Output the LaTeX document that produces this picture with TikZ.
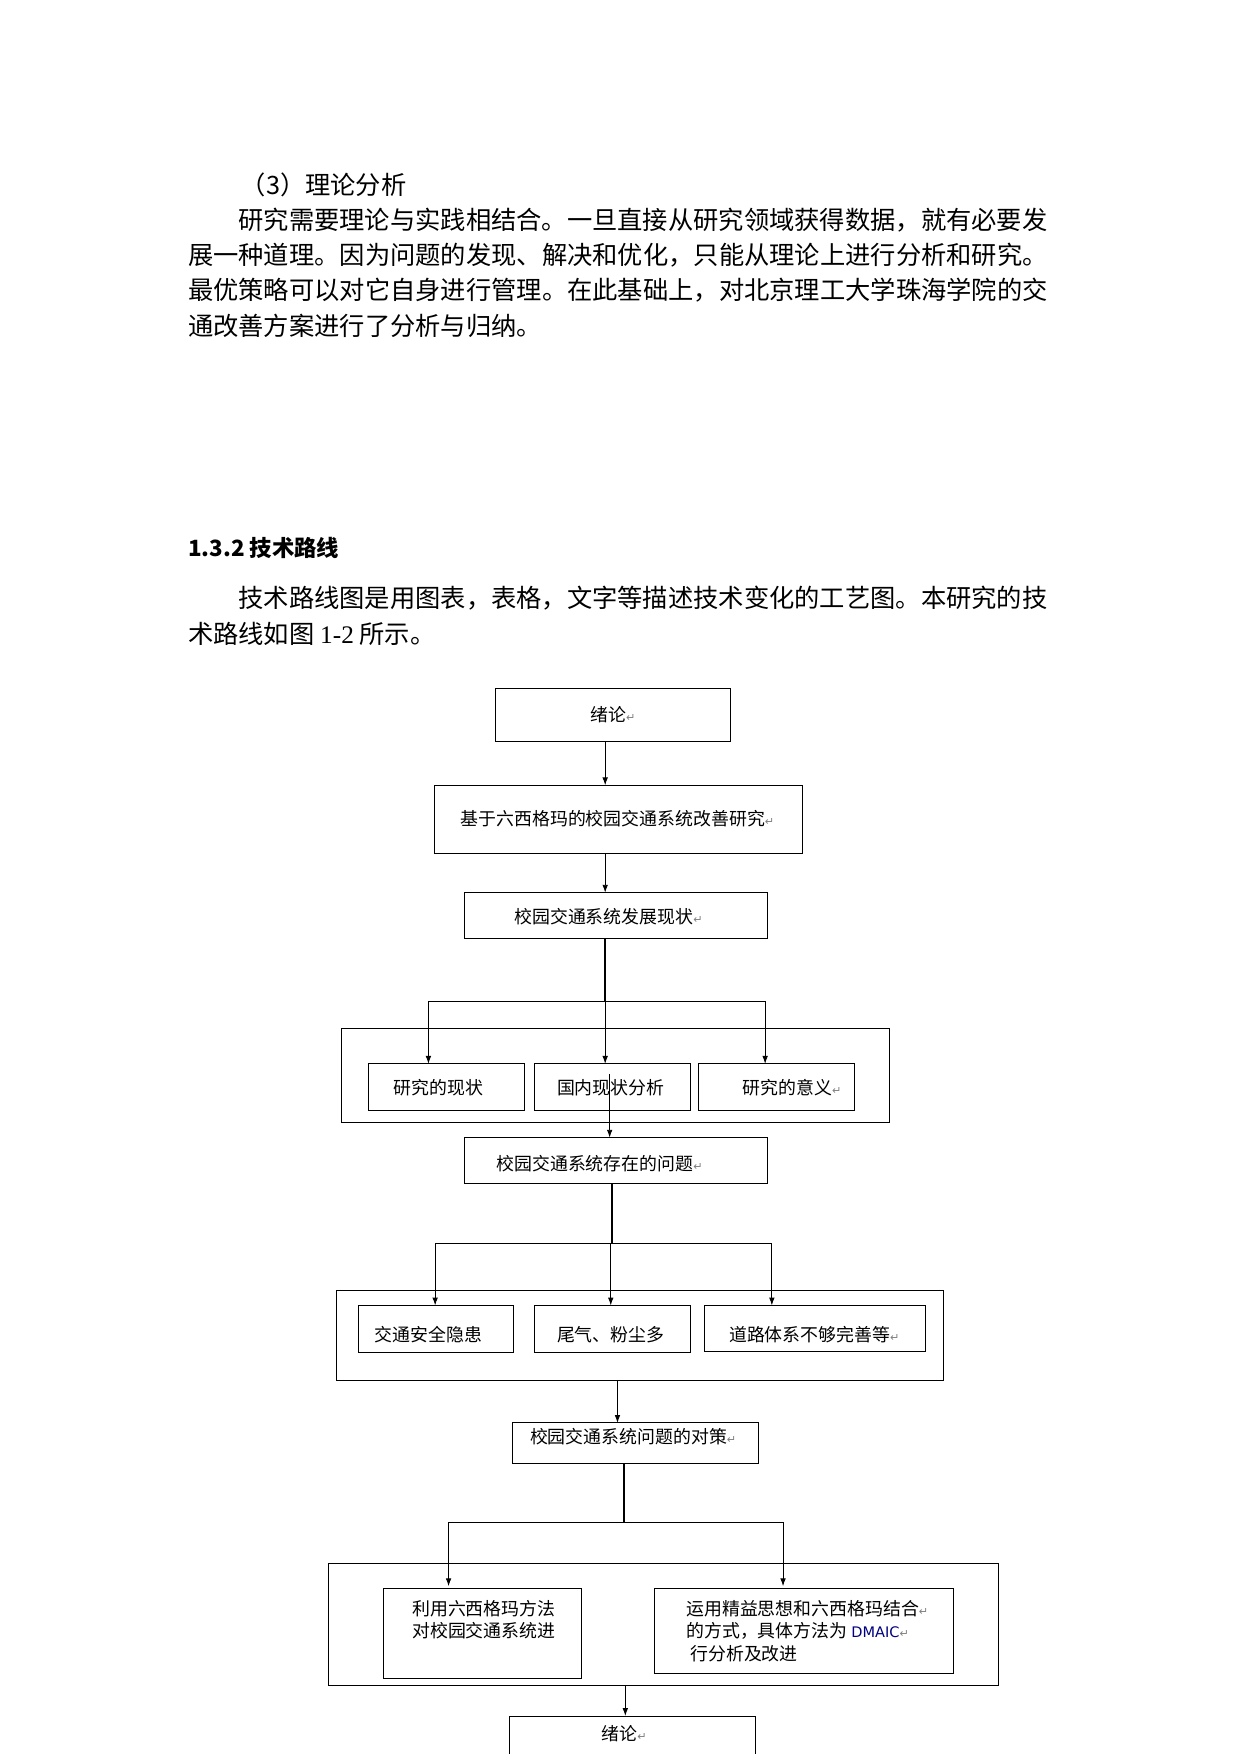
\documentclass[tikz,border=0pt]{standalone}
\usepackage{fontspec}
\setmainfont{Liberation Serif}
\newfontfamily\cjk{Noto Sans CJK SC}
\newfontfamily\dv{DejaVu Sans}
\newcommand{\rt}{{\dv\color{gray}\fontsize{10}{10}\selectfont ↵}}
\begin{document}
\begin{tikzpicture}[x=1pt,y=-1pt,
  box/.style={draw,thick,inner sep=0},
  lbl/.style={font=\cjk\fontsize{16}{20}\selectfont,anchor=center},
  body/.style={font=\cjk\fontsize{22.6}{31}\selectfont,anchor=west,inner sep=0},
  arr/.style={-{Latex[length=7pt,width=5pt]},thick},
  trunk/.style={line width=2pt}]
\usetikzlibrary{arrows.meta}
\useasboundingbox (0,0) rectangle (1109,1568);
\node[body] (t0) at (215,165) {（3）理论分析};
\node[body] (t1) at (213,197) {研究需要理论与实践相结合。一旦直接从研究领域获得数据，就有必要发};
\node[body] (t2) at (168,228) {展一种道理。因为问题的发现、解决和优化，只能从理论上进行分析和研究。};
\node[body] (t3) at (168,259) {最优策略可以对它自身进行管理。在此基础上，对北京理工大学珠海学院的交};
\node[body] (t4) at (168,291) {通改善方案进行了分析与归纳。};
\node[body,font=\cjk\fontsize{20}{31}\selectfont] (h) at (168,490) {\bfseries 1.3.2 {\cjk 技术路线}};
\node[body] (t5) at (213,535) {技术路线图是用图表，表格，文字等描述技术变化的工艺图。本研究的技};
\node[body] (t6) at (168,567) {术路线如图 {\rmfamily 1-2} 所示。};
% boxes
\draw[box] (443,615) rectangle (653,663); \node[lbl] (b1) at (548,639) {绪论\rt};
\draw[box] (388,702) rectangle (717,763); \node[lbl] (b2) at (552,732) {基于六西格玛的校园交通系统改善研究\rt};
\draw[box] (415,798) rectangle (686,839); \node[lbl] (b3) at (544,819) {校园交通系统发展现状\rt};
\draw[box] (305,919) rectangle (795,1003);
\draw[box] (329,951) rectangle (469,993); \node[lbl] (c1) at (392,972) {研究的现状};
\draw[box] (478,951) rectangle (617,993); \node[lbl] (c2) at (546,972) {国内现状分析};
\draw[box] (624,951) rectangle (764,993); \node[lbl] (c3) at (708,972) {研究的意义\rt};
\draw[box] (415,1017) rectangle (686,1058); \node[lbl] (b4) at (536,1040) {校园交通系统存在的问题\rt};
\draw[box] (301,1154) rectangle (843,1234);
\draw[box] (320,1167) rectangle (459,1209); \node[lbl] (d1) at (383,1193) {交通安全隐患};
\draw[box] (478,1167) rectangle (617,1209); \node[lbl] (d2) at (546,1193) {尾气、粉尘多};
\draw[box] (630,1167) rectangle (827,1208); \node[lbl] (d3) at (728,1193) {道路体系不够完善等\rt};
\draw[box] (458,1272) rectangle (678,1308); \node[lbl] (b5) at (566,1284) {校园交通系统问题的对策\rt};
\draw[box] (294,1398) rectangle (893,1507);
\draw[box] (343,1420) rectangle (520,1500);
\node[lbl,align=left,anchor=north west] (e1) at (365,1427) {利用六西格玛方法\\对校园交通系统进};
\draw[box] (585,1420) rectangle (852,1496);
\node[lbl,align=left,anchor=north west] (e2) at (610,1427) {运用精益思想和六西格玛结合\rt\\的方式，具体方法为 {\dv\fontsize{13}{13}\selectfont\color{blue!50!black}DMAIC}\rt\\\ 行分析及改进};
\draw[box] (455,1534) rectangle (675,1580); \node[lbl] (b6) at (558,1550) {绪论\rt};
% connectors
\draw[arr] (541,663) -- (541,702);
\draw[arr] (541,763) -- (541,798);
\draw[trunk] (541,839) -- (541,895);
\draw[thick] (383,895) -- (684,895);
\draw[arr] (383,895) -- (383,951);
\draw[arr] (541,895) -- (541,951);
\draw[arr] (684,895) -- (684,951);
\draw[arr] (545,960) -- (545,1017);
\draw[trunk] (547,1058) -- (547,1112);
\draw[thick] (389,1112) -- (690,1112);
\draw[arr] (389,1112) -- (389,1167);
\draw[arr] (546,1112) -- (546,1167);
\draw[arr] (690,1112) -- (690,1167);
\draw[arr] (552,1234) -- (552,1272);
\draw[trunk] (558,1308) -- (558,1361);
\draw[thick] (401,1361) -- (700,1361);
\draw[arr] (401,1361) -- (401,1418);
\draw[arr] (700,1361) -- (700,1418);
\draw[arr] (559,1507) -- (559,1534);
\end{tikzpicture}
\end{document}
